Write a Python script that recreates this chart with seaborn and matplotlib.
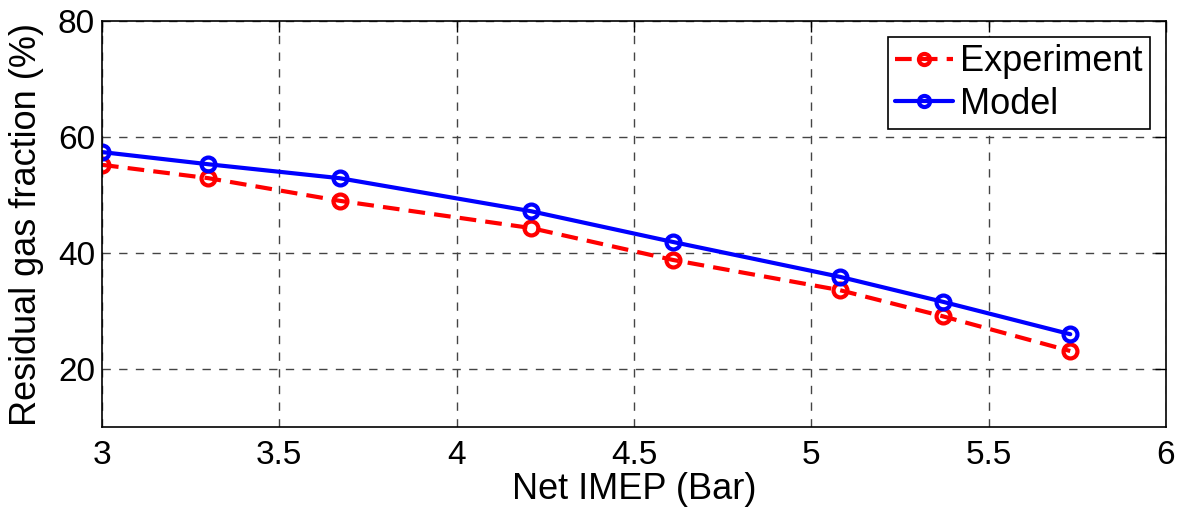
import matplotlib
matplotlib.use("Agg")
import matplotlib.pyplot as plt
import seaborn as sns
import pandas as pd

imep = [3.0, 3.3, 3.67, 4.21, 4.61, 5.08, 5.37, 5.73]
experiment = [55.2, 52.9, 49.0, 44.3, 38.8, 33.6, 29.1, 23.1]
model = [57.4, 55.3, 52.9, 47.2, 41.9, 35.9, 31.6, 26.0]
xticks = [3, 3.5, 4, 4.5, 5, 5.5, 6]
xtick_labels = ["3", "3.5", "4", "4.5", "5", "5.5", "6"]
yticks = [20, 40, 60, 80]

sns.set_style("white")
plt.rcParams['font.family'] = ['Liberation Sans', 'DejaVu Sans']
plt.rcParams['text.color'] = 'black'
plt.rcParams['axes.labelcolor'] = 'black'
plt.rcParams['xtick.color'] = 'black'
plt.rcParams['ytick.color'] = 'black'

fig = plt.figure(figsize=(11.85, 5.12), dpi=100)
ax = fig.add_axes([102/1185, 1 - 427/512, (1166-102)/1185, (427-21)/512])

df_e = pd.DataFrame({"x": imep, "y": experiment})
df_m = pd.DataFrame({"x": imep, "y": model})
sns.lineplot(data=df_e, x="x", y="y", ax=ax, color="#ff0000", linestyle="--",
             linewidth=3, marker="o", markersize=10, markerfacecolor="none",
             markeredgecolor="#ff0000", markeredgewidth=3, label="Experiment")
ax.lines[-1].set_dashes([4, 2.2])
sns.lineplot(data=df_m, x="x", y="y", ax=ax, color="#0000ff", linestyle="-",
             linewidth=3, marker="o", markersize=10, markerfacecolor="none",
             markeredgecolor="#0000ff", markeredgewidth=3, label="Model")

ax.set_xlim(3, 6)
ax.set_ylim(10, 80)
ax.set_xticks(xticks)
ax.set_xticklabels(xtick_labels)
ax.set_yticks(yticks)
ax.grid(True, color="#444444", linestyle=(0, (6, 6)), linewidth=1)
ax.tick_params(axis="both", direction="in", length=8, width=1, top=True, right=True,
               labelsize=24, colors="black")
ax.tick_params(axis="y", pad=5)
ax.tick_params(axis="x", pad=9)
for s in ax.spines.values():
    s.set_color("black")
    s.set_linewidth(1.2)
ax.set_xlabel("Net IMEP (Bar)", fontsize=26, labelpad=1, color="black")
ax.set_ylabel("Residual gas fraction (%)", fontsize=26, labelpad=10, color="black")

leg = ax.legend(loc="upper right", fontsize=26, frameon=True, fancybox=False,
                edgecolor="black", framealpha=1, handlelength=1.6,
                borderpad=0.2, labelspacing=0.2, handletextpad=0.2,
                borderaxespad=0.45, markerscale=0.8)
leg.get_frame().set_linewidth(1.2)
for t in leg.get_texts():
    t.set_color("black")

fig.savefig("out.png", dpi=100)
